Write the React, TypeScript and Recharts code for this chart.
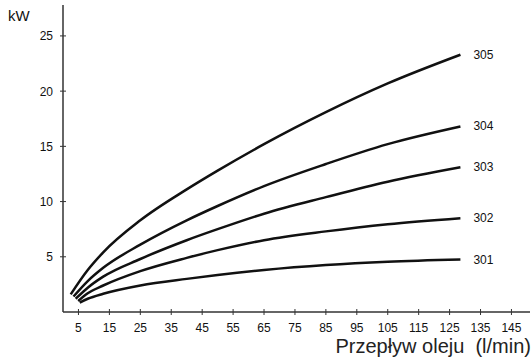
import React from "react";
import { LineChart, Line, XAxis, YAxis } from "recharts";

const xTicks = [5, 15, 25, 35, 45, 55, 65, 75, 85, 95, 105, 115, 125, 135, 145];
const yTicks = [5, 10, 15, 20, 25];

const seriesNames = ["305", "304", "303", "302", "301"];

const flow305 = [2.5, 8, 13, 25, 40, 50, 65, 85, 105, 128.5];
const kw305 = [1.6, 3.8, 5.4, 8.3, 11.1, 12.8, 15.2, 18.1, 20.7, 23.3];

const flow304 = [3.4, 8, 13, 25, 40, 50, 65, 85, 105, 128.5];
const kw304 = [1.4, 2.8, 4.0, 6.1, 8.3, 9.6, 11.4, 13.4, 15.2, 16.8];

const flow303 = [4.1, 8, 13, 25, 40, 50, 65, 85, 105, 128.5];
const kw303 = [1.2, 2.2, 3.2, 4.8, 6.5, 7.5, 8.9, 10.4, 11.8, 13.1];

const flow302 = [4.9, 8, 13, 25, 40, 50, 65, 85, 105, 128.5];
const kw302 = [1.0, 1.7, 2.4, 3.7, 4.9, 5.6, 6.5, 7.3, 7.95, 8.5];

const flow301 = [5.4, 8, 13, 25, 40, 50, 65, 85, 105, 128.5];
const kw301 = [0.85, 1.2, 1.65, 2.4, 3.0, 3.35, 3.8, 4.25, 4.55, 4.75];

const build = (xs: number[], ys: number[]) => xs.map((x, i) => ({ x, y: ys[i] }));

const series = [
  { name: seriesNames[0], data: build(flow305, kw305) },
  { name: seriesNames[1], data: build(flow304, kw304) },
  { name: seriesNames[2], data: build(flow303, kw303) },
  { name: seriesNames[3], data: build(flow302, kw302) },
  { name: seriesNames[4], data: build(flow301, kw301) },
];

const FONT = "'Liberation Sans', Arial, sans-serif";

const XTick = (props: any) => {
  const { x, y, payload } = props;
  return (
    <g>
      <line x1={x} x2={x} y1={y - 3} y2={y + 3} stroke="#333" strokeWidth={1} />
      <text x={x} y={y + 20} textAnchor="middle" fontSize={12} fontFamily={FONT} fill="#111">
        {payload.value}
      </text>
    </g>
  );
};

const YTick = (props: any) => {
  const { x, y, payload } = props;
  return (
    <g>
      <line x1={x - 3} x2={x + 3} y1={y} y2={y} stroke="#333" strokeWidth={1} />
      <text x={x - 10} y={y + 4.5} textAnchor="end" fontSize={12} fontFamily={FONT} fill="#111">
        {payload.value}
      </text>
    </g>
  );
};

const makeLabel = (name: string, lastIndex: number) => (props: any) => {
  const { x, y, index } = props;
  if (index !== lastIndex) return <g />;
  return (
    <text x={x + 13} y={y + 4} fontSize={12} fontFamily={FONT} fill="#111">
      {name}
    </text>
  );
};

export default function App() {
  return (
    <div style={{ position: "absolute", left: 0, top: 0, width: 532, height: 358, background: "#fff" }}>
      <LineChart
        width={532}
        height={358}
        margin={{ top: 5, right: 2, bottom: 16, left: 0 }}
      >
        <XAxis
          type="number"
          dataKey="x"
          domain={[0, 151]}
          ticks={xTicks}
          tick={<XTick />}
          tickLine={false}
          tickSize={0}
          tickMargin={0}
          height={30}
          axisLine={{ stroke: "#333", strokeWidth: 1.5 }}
          allowDuplicatedCategory={false}
        />
        <YAxis
          type="number"
          dataKey="y"
          domain={[0, 27.8]}
          ticks={yTicks}
          tick={<YTick />}
          tickLine={false}
          tickSize={0}
          tickMargin={0}
          width={63}
          axisLine={{ stroke: "#333", strokeWidth: 1.5 }}
        />
        {series.map((s) => (
          <Line
            key={s.name}
            data={s.data}
            dataKey="y"
            type="monotone"
            stroke="#111"
            strokeWidth={2.5}
            dot={false}
            isAnimationActive={false}
            label={makeLabel(s.name, s.data.length - 1)}
          />
        ))}
      </LineChart>
      <div style={{ position: "absolute", left: 8, top: 8, fontFamily: FONT, fontSize: 15, color: "#111", lineHeight: "16px" }}>kW</div>
      <div style={{ position: "absolute", right: 1, top: 335, fontFamily: FONT, fontSize: 20, color: "#222", lineHeight: "22px", whiteSpace: "pre" }}>
        {"Przepływ oleju  (l/min)"}
      </div>
    </div>
  );
}
